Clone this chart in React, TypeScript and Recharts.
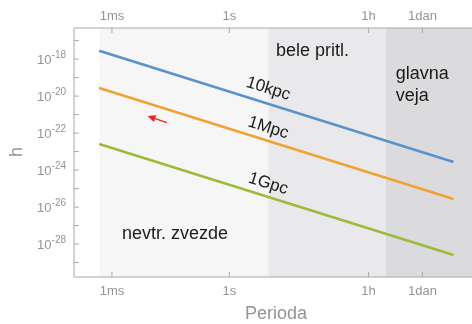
import {
  LineChart,
  Line,
  XAxis,
  YAxis,
  ReferenceArea,
  ReferenceDot,
  ReferenceLine,
} from 'recharts';

// period in seconds, strain h
const periods = [4.7e-4, 5.4e5];
const h10kpc = [2.8e-18, 2.7e-24];
const h1Mpc = [2.7e-20, 2.7e-26];
const h1Gpc = [2.6e-23, 2.6e-29];

const xTicks = [1e-3, 1, 3600, 86400];
const xTickLabels = ['1ms', '1s', '1h', '1dan'];
const yTicks = [
  1e-17, 1e-18, 1e-19, 1e-20, 1e-21, 1e-22, 1e-23, 1e-24, 1e-25, 1e-26, 1e-27,
  1e-28, 1e-29,
];

// source regions (period bounds, s)
const regionNs = [4.8e-4, 10];
const regionWd = [10, 1e4];
const regionMs = [1e4, 1.6e6];

// label anchors [period, h]
const lbl10kpc = [10, 2.7e-20];
const lbl1Mpc = [10, 2.1e-22];
const lbl1Gpc = [10, 2.0e-25];
const lblNs = [1.8e-3, 3.9e-28];
const lblWd = [15.6, 3.1e-18];
const lblMs = [1.8e4, 1.7e-19];
const arrowTail = [0.0255, 3.7e-22];
const arrowTip = [0.0081, 8.3e-22];

const rows = (hs: number[]) => periods.map((p, i) => ({ p, h: hs[i] }));

const FONT = '"Liberation Sans", Arial, Helvetica, sans-serif';
const AXIS = '#a8a8a8';
const TICK_TXT = '#949494';

const xLabel = (v: number) => {
  const i = xTicks.findIndex((t) => Math.abs(t - v) / t < 1e-6);
  return i >= 0 ? xTickLabels[i] : '';
};

const BottomTick = (props: any) => {
  const { x, y, payload } = props;
  return (
    <g>
      <line x1={x} y1={y} x2={x} y2={y - 5} stroke={AXIS} />
      <text x={x} y={y + 18} textAnchor='middle' fill={TICK_TXT} fontSize={13} fontFamily={FONT}>
        {xLabel(payload.value)}
      </text>
    </g>
  );
};

const TopTick = (props: any) => {
  const { x, y, payload } = props;
  return (
    <g>
      <line x1={x} y1={y} x2={x} y2={y + 5} stroke={AXIS} />
      <text x={x} y={y - 8} textAnchor='middle' fill={TICK_TXT} fontSize={13} fontFamily={FONT}>
        {xLabel(payload.value)}
      </text>
    </g>
  );
};

const LeftTick = (props: any) => {
  const { x, y, payload } = props;
  const e = Math.round(Math.log10(payload.value));
  return (
    <g>
      <line x1={x} y1={y} x2={x + 5} y2={y} stroke={AXIS} />
      {e % 2 === 0 && (
        <text x={x - 8} y={y + 5} textAnchor='end' fill={TICK_TXT} fontSize={13} fontFamily={FONT}>
          <tspan>10</tspan>
          <tspan dy={-6} fontSize={10}>
            {e}
          </tspan>
        </text>
      )}
    </g>
  );
};

const seriesLabel = (txt: string) => (p: any) => (
  <text
    x={p.cx}
    y={p.cy}
    transform={`rotate(17.5 ${p.cx} ${p.cy})`}
    textAnchor='middle'
    dominantBaseline='central'
    fontSize={17}
    fontFamily={FONT}
    fill='#1a1a1a'
  >
    {txt}
  </text>
);

const regionLabel = (lines: string[]) => (p: any) => (
  <text x={p.cx} y={p.cy} fontSize={18} fontFamily={FONT} fill='#1a1a1a' dominantBaseline='central'>
    {lines.map((l, i) => (
      <tspan key={l} x={p.cx} dy={i === 0 ? 0 : 22}>
        {l}
      </tspan>
    ))}
  </text>
);

const Arrow = (p: any) => {
  const { x1, y1, x2, y2 } = p;
  const a = Math.atan2(y2 - y1, x2 - x1);
  const L = 8;
  const W = 3.5;
  const bx = x2 - L * Math.cos(a);
  const by = y2 - L * Math.sin(a);
  const px = -Math.sin(a) * W;
  const py = Math.cos(a) * W;
  return (
    <g>
      <line x1={x1} y1={y1} x2={bx} y2={by} stroke='#e8232a' strokeWidth={1.3} />
      <polygon
        points={`${x2},${y2} ${bx + px},${by + py} ${bx - px},${by - py}`}
        fill='#e8232a'
      />
    </g>
  );
};

export default function App() {
  return (
    <div style={{ position: 'fixed', left: 0, top: 0 }}>
      <LineChart width={472} height={324} margin={{ top: 0, right: 0, bottom: 0, left: 0 }}>
        <XAxis
          xAxisId='b'
          dataKey='p'
          type='number'
          scale='log'
          domain={[1.07e-4, 1.6e6]}
          allowDataOverflow
          ticks={xTicks}
          interval={0}
          tick={BottomTick}
          tickLine={false}
          tickSize={0}
          tickMargin={0}
          height={47}
          stroke={AXIS}
        />
        <XAxis
          xAxisId='t'
          dataKey='p'
          orientation='top'
          type='number'
          scale='log'
          domain={[1.07e-4, 1.6e6]}
          allowDataOverflow
          ticks={xTicks}
          interval={0}
          tick={TopTick}
          tickLine={false}
          tickSize={0}
          tickMargin={0}
          height={28}
          stroke={AXIS}
        />
        <YAxis
          type='number'
          scale='log'
          domain={[1.66e-30, 4.8e-17]}
          allowDataOverflow
          ticks={yTicks}
          interval={0}
          tick={LeftTick}
          tickLine={false}
          tickSize={0}
          tickMargin={0}
          width={74}
          stroke={AXIS}
        />
        <ReferenceArea xAxisId='b' x1={regionNs[0]} x2={regionNs[1]} fill='#f6f6f6' fillOpacity={1} />
        <ReferenceArea xAxisId='b' x1={regionWd[0]} x2={regionWd[1]} fill='#e9e9eb' fillOpacity={1} />
        <ReferenceArea xAxisId='b' x1={regionMs[0]} x2={regionMs[1]} fill='#dbdbdd' fillOpacity={1} />
        <Line xAxisId='b' data={rows(h10kpc)} dataKey='h' stroke='#5a93c9' strokeWidth={2.6} dot={false} isAnimationActive={false} />
        <Line xAxisId='b' data={rows(h1Mpc)} dataKey='h' stroke='#f0a233' strokeWidth={2.6} dot={false} isAnimationActive={false} />
        <Line xAxisId='b' data={rows(h1Gpc)} dataKey='h' stroke='#9cba3c' strokeWidth={2.6} dot={false} isAnimationActive={false} />
        <ReferenceLine
          xAxisId='b'
          segment={[
            { x: arrowTail[0], y: arrowTail[1] },
            { x: arrowTip[0], y: arrowTip[1] },
          ]}
          shape={Arrow}
        />
        <ReferenceDot xAxisId='b' x={lbl10kpc[0]} y={lbl10kpc[1]} shape={seriesLabel('10kpc')} />
        <ReferenceDot xAxisId='b' x={lbl1Mpc[0]} y={lbl1Mpc[1]} shape={seriesLabel('1Mpc')} />
        <ReferenceDot xAxisId='b' x={lbl1Gpc[0]} y={lbl1Gpc[1]} shape={seriesLabel('1Gpc')} />
        <ReferenceDot xAxisId='b' x={lblNs[0]} y={lblNs[1]} shape={regionLabel(['nevtr. zvezde'])} />
        <ReferenceDot xAxisId='b' x={lblWd[0]} y={lblWd[1]} shape={regionLabel(['bele pritl.'])} />
        <ReferenceDot xAxisId='b' x={lblMs[0]} y={lblMs[1]} shape={regionLabel(['glavna', 'veja'])} />
        <text x={276} y={319} textAnchor='middle' fontSize={18} fontFamily={FONT} fill={TICK_TXT}>
          Perioda
        </text>
        <text
          x={16}
          y={152}
          transform='rotate(-90 16 152)'
          textAnchor='middle'
          dominantBaseline='central'
          fontSize={18}
          fontFamily={FONT}
          fill={TICK_TXT}
        >
          h
        </text>
      </LineChart>
    </div>
  );
}
